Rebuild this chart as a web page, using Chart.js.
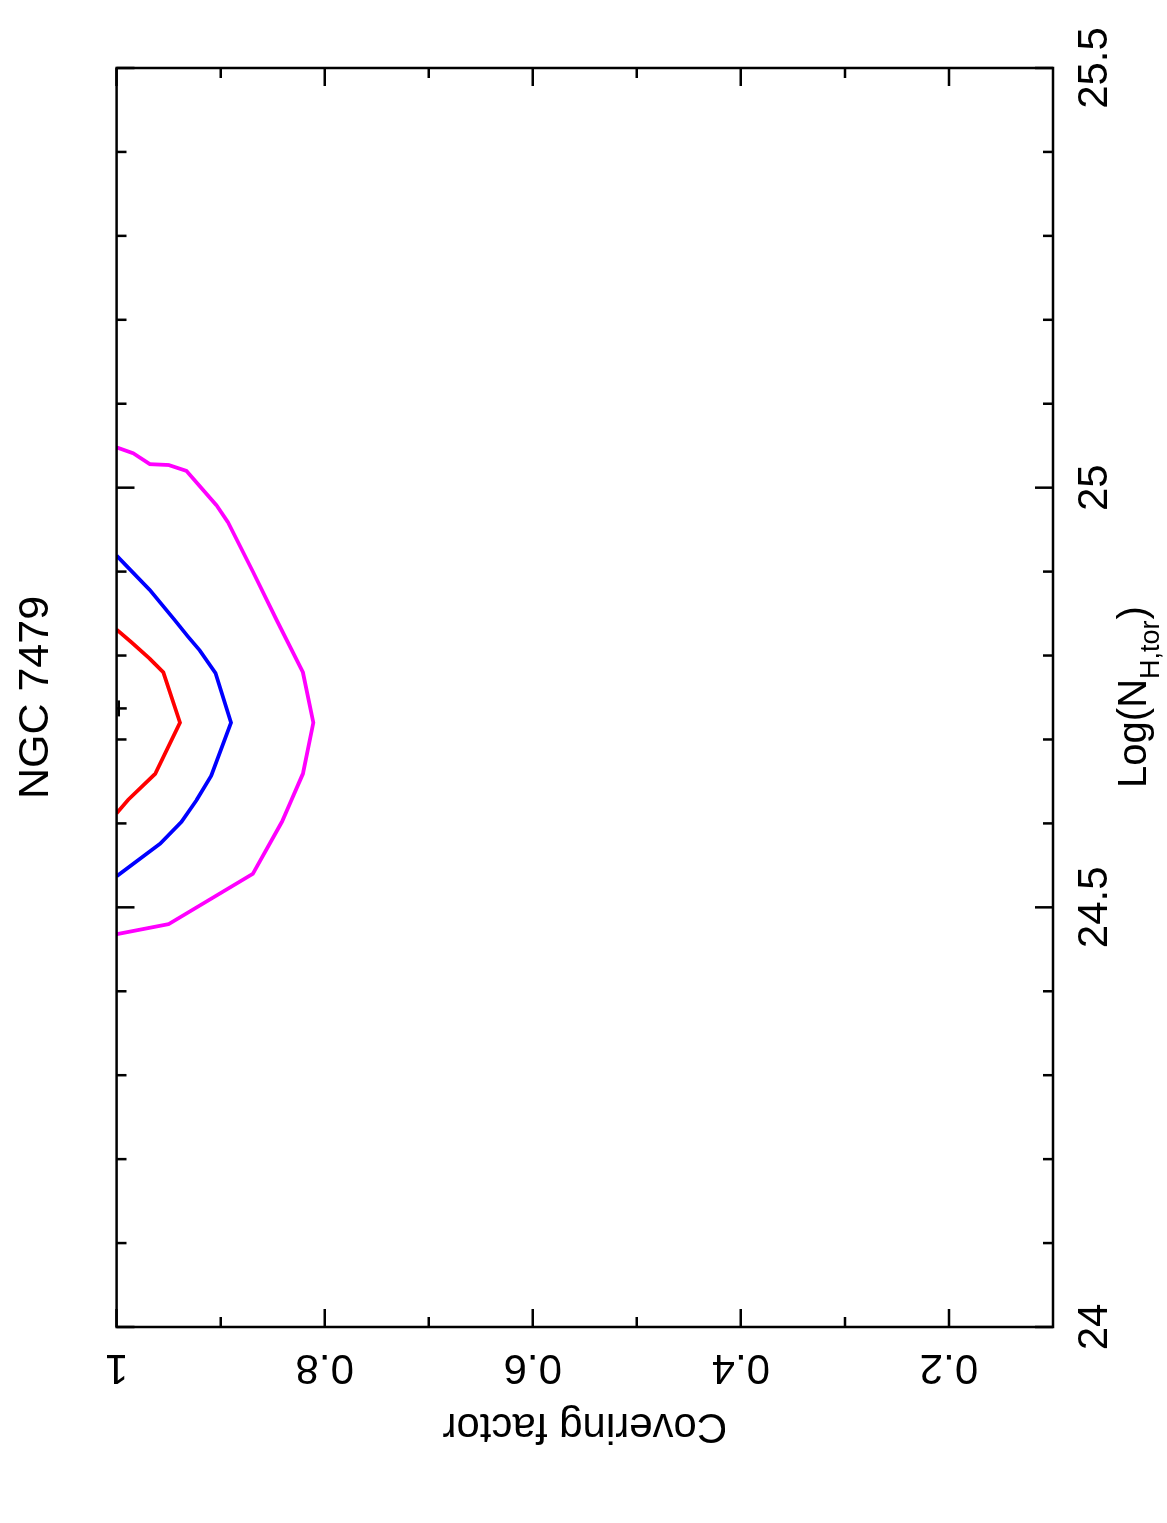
<!DOCTYPE html>
<html>
<head>
<meta charset="utf-8">
<script src="https://cdn.jsdelivr.net/npm/chart.js@4.4.0/dist/chart.umd.min.js"></script>
<style>
  html, body { margin: 0; padding: 0; background: #fff; overflow: hidden; }
  /* plot is drawn landscape, then turned a quarter counter-clockwise like the original page */
  #wrap { position: absolute; left: 0; top: 0; width: 1523px; height: 1167px;
          transform-origin: 0 0; transform: translateY(1523px) rotate(-90deg); }
</style>
</head>
<body>
<div id="wrap"><canvas id="contour" width="1523" height="1167"></canvas></div>
<script>
const FONT = '"Liberation Sans", Arial, Helvetica, sans-serif';

// contour levels
const redLogNH = [24.831, 24.816, 24.796, 24.780, 24.720, 24.659, 24.628, 24.612];
const redCf    = [1.0, 0.986, 0.968, 0.955, 0.939, 0.963, 0.989, 1.0];

const blueLogNH = [24.919, 24.878, 24.842, 24.822, 24.806, 24.779, 24.720, 24.657, 24.628, 24.602, 24.576, 24.537];
const blueCf    = [1.0, 0.968, 0.944, 0.931, 0.920, 0.905, 0.890, 0.909, 0.923, 0.9375, 0.958, 1.0];

const magentaLogNH = [25.048, 25.041, 25.028, 25.027, 25.020, 24.979, 24.959, 24.900, 24.842, 24.780, 24.720, 24.659, 24.628, 24.602, 24.540, 24.480, 24.468];
const magentaCf    = [1.0, 0.984, 0.968, 0.950, 0.933, 0.904, 0.893, 0.869, 0.846, 0.821, 0.811, 0.821, 0.832, 0.841, 0.869, 0.950, 1.0];

// best fit
const bestLogNH = [24.737];
const bestCf    = [0.998];

// axis ticks
const xMajorTicks = [24, 24.5, 25, 25.5];
const xTickLabels = ['24', '24.5', '25', '25.5'];
const xMinorTicks = [24.1, 24.2, 24.3, 24.4, 24.6, 24.7, 24.8, 24.9, 25.1, 25.2, 25.3, 25.4];
const yMajorTicks = [0.2, 0.4, 0.6, 0.8, 1];
const yMinorTicks = [0.3, 0.5, 0.7, 0.9];
const yTickLabels = ['0.2', '0.4', '0.6', '0.8', '1'];

function toPoints(xs, ys) {
    return xs.map(function(x, i) { return {x: x, y: ys[i]}; });
}

function contourSet(xs, ys, colour) {
    return {
        data: toPoints(xs, ys),
        showLine: true,
        borderColor: colour,
        backgroundColor: colour,
        borderWidth: 3.8,
        pointRadius: 0,
        tension: 0
    };
}

// frame, inward ticks on all four sides, rotated y labels and the subscripted x title
const framePlugin = {
    id: 'frame',
    afterDraw(chart) {
        const ctx = chart.ctx;
        const a = chart.chartArea;
        const xs = chart.scales.x, ys = chart.scales.y;
        ctx.save();
        ctx.strokeStyle = '#000';
        ctx.lineWidth = 2.5;
        ctx.strokeRect(a.left, a.top, a.right - a.left, a.bottom - a.top);

        function xTick(v, len) {
            const p = xs.getPixelForValue(v);
            ctx.beginPath();
            ctx.moveTo(p, a.bottom); ctx.lineTo(p, a.bottom - len);
            ctx.moveTo(p, a.top); ctx.lineTo(p, a.top + len);
            ctx.stroke();
        }
        function yTick(v, len) {
            const p = ys.getPixelForValue(v);
            ctx.beginPath();
            ctx.moveTo(a.left, p); ctx.lineTo(a.left + len, p);
            ctx.moveTo(a.right, p); ctx.lineTo(a.right - len, p);
            ctx.stroke();
        }
        xMajorTicks.forEach(v => xTick(v, 18));
        xMinorTicks.forEach(v => xTick(v, 10));
        yMajorTicks.forEach(v => yTick(v, 18));
        yMinorTicks.forEach(v => yTick(v, 10));

        ctx.fillStyle = '#000';
        ctx.font = '42px ' + FONT;
        ctx.textAlign = 'center';
        ctx.textBaseline = 'middle';
        yMajorTicks.forEach(function(v, i) {
            ctx.save();
            ctx.translate(156, ys.getPixelForValue(v));
            ctx.rotate(-Math.PI / 2);
            ctx.fillText(yTickLabels[i], 0, 0);
            ctx.restore();
        });

        // Log(N_H,tor)
        const mainFont = '40px ' + FONT, subFont = '27px ' + FONT;
        ctx.textAlign = 'left';
        ctx.textBaseline = 'alphabetic';
        ctx.font = mainFont;
        const w1 = ctx.measureText('Log(N').width;
        const w3 = ctx.measureText(')').width;
        ctx.font = subFont;
        const w2 = ctx.measureText('H,tor').width;
        let x0 = (a.left + a.right) / 2 - (w1 + w2 + w3) / 2;
        const base = 1146;
        ctx.font = mainFont;
        ctx.fillText('Log(N', x0, base);
        ctx.font = subFont;
        ctx.fillText('H,tor', x0 + w1, base + 13);
        ctx.font = mainFont;
        ctx.fillText(')', x0 + w1 + w2 + 1, base);
        ctx.restore();
    }
};

const config = {
    type: 'scatter',
    data: {
        datasets: [
            contourSet(magentaLogNH, magentaCf, '#ff00ff'),
            contourSet(blueLogNH, blueCf, '#0000ff'),
            contourSet(redLogNH, redCf, '#ff0000'),
            {
                data: toPoints(bestLogNH, bestCf),
                pointStyle: 'cross',
                pointRadius: 8,
                borderWidth: 2.5,
                borderColor: '#000',
                backgroundColor: '#000'
            }
        ]
    },
    options: {
        responsive: false,
        animation: false,
        layout: { padding: { top: 0, left: 0, right: 68, bottom: 0 } },
        plugins: {
            legend: { display: false },
            tooltip: { enabled: false },
            title: {
                display: true,
                fullSize: false,   // centre over the plot box, not the page
                text: 'NGC 7479',
                color: '#000',
                font: { family: FONT, size: 43, weight: 'normal' },
                padding: { top: 10, bottom: 55 }
            }
        },
        scales: {
            x: {
                type: 'linear',
                position: 'bottom',
                min: 24,
                max: 25.5,
                grid: { display: false },
                border: { display: false },
                ticks: {
                    stepSize: 0.5,
                    autoSkip: false,
                    maxRotation: 0,
                    padding: 9,
                    color: '#000',
                    font: { family: FONT, size: 42 },
                    callback: function(value) {
                        const i = xMajorTicks.indexOf(value);
                        return i >= 0 ? xTickLabels[i] : '';
                    }
                },
                afterFit: function(scale) { scale.height = 114; }
            },
            y: {
                type: 'linear',
                position: 'left',
                min: 0.1,
                max: 1,
                grid: { display: false },
                border: { display: false },
                ticks: { display: false },
                title: {
                    display: true,
                    text: 'Covering factor',
                    color: '#000',
                    font: { family: FONT, size: 42 },
                    padding: { top: 72, bottom: 0 }
                },
                afterFit: function(scale) { scale.width = 196; }
            }
        }
    },
    plugins: [framePlugin]
};

const chart = new Chart('contour', config);
</script>
</body>
</html>
